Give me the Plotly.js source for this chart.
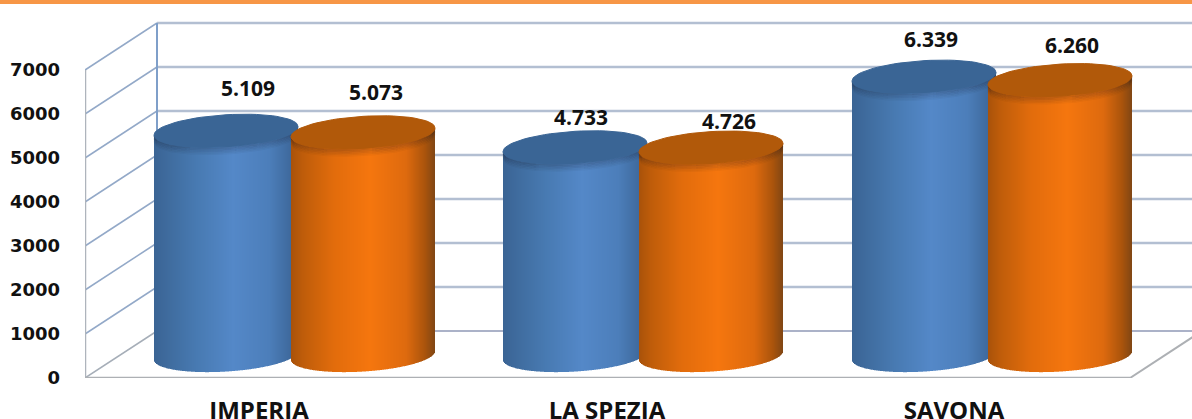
<!DOCTYPE html>
<html>
<head>
<meta charset="utf-8">
<script src="https://cdn.plot.ly/plotly-3.0.1.min.js"></script>
<style>html,body{margin:0;padding:0;background:#fff;overflow:hidden}</style>
</head>
<body>
<div id="chart" style="width:1192px;height:419px"></div>
<script>
// ---- data ----
const categories = ["IMPERIA", "LA SPEZIA", "SAVONA"];
const seriesBlue = [5109, 4733, 6339];
const seriesOrange = [5073, 4726, 6260];
const yTicks = [0, 1000, 2000, 3000, 4000, 5000, 6000, 7000];

// ---- layout geometry (pixel-like x axis units, value y axis) ----
const W = 1192, H = 419, LEFT = 85, BOTTOM = 41;
const PPU = 0.044;                // pixels per value unit on the y axis
const blueCenters = [226, 575, 924];
const orangeCenters = [363, 711, 1060];
const labelCenters = [259, 607, 954];
const blueLabelDx = [22, 6, 7], blueLabelLift = [62, 50, 57];
const orangeLabelDx = [13, 18, 12], orangeLabelLift = [60, 46, 55];
const RX = 72, RY = 16, SHEAR = 0.06;
const FLOOR_LIFT = 510;           // cylinders stand this far "into" the floor
const WALL_DX = 72, WALL_DY = 47 / PPU;
const FLOOR_END = 1130;

const blueStops = [[0,[58,100,148]],[0.08,[62,106,156]],[0.3,[72,122,178]],[0.55,[84,136,200]],[0.8,[76,126,186]],[0.93,[64,108,160]],[1,[56,98,146]]];
const orangeStops = [[0,[168,82,10]],[0.08,[190,92,10]],[0.3,[226,108,12]],[0.55,[245,118,14]],[0.8,[222,106,14]],[0.93,[170,84,12]],[1,[128,70,20]]];

function ramp(stops, t) {
  for (let i = 1; i < stops.length; i++) {
    if (t <= stops[i][0]) {
      const a = stops[i-1], b = stops[i], f = (t - a[0]) / (b[0] - a[0]);
      const c = a[1].map((v, k) => Math.round(v + (b[1][k] - v) * f));
      return `rgb(${c[0]},${c[1]},${c[2]})`;
    }
  }
  return "rgb(0,0,0)";
}
function lowerArc(dx) { return (-SHEAR * dx + RY * Math.sqrt(Math.max(0, 1 - (dx / RX) ** 2))) / PPU; }

function bodyTrace(name, centers, values, stops) {
  const x = [], y = [], base = [], color = [];
  values.forEach((v, i) => {
    for (let dx = -RX; dx < RX; dx++) {
      const m = dx + 0.5;
      const bottom = FLOOR_LIFT - lowerArc(m);
      const top = v + FLOOR_LIFT - (-SHEAR * m) / PPU;
      x.push(centers[i] + m);
      base.push(bottom);
      y.push(top - bottom);
      color.push(ramp(stops, (m + RX) / (2 * RX)));
    }
  });
  return {type: "bar", name, x, y, base, width: 1, opacity: 1, marker: {color, opacity: 1, line: {width: 0}}, hoverinfo: "skip", showlegend: false};
}
function capTrace(center, value, fill) {
  const x = [], y = [];
  for (let d = 0; d <= 72; d++) {
    const a = d / 72 * 2 * Math.PI;
    const dx = RX * Math.cos(a);
    x.push(center + dx);
    y.push(value + FLOOR_LIFT + (SHEAR * dx + RY * Math.sin(a)) / PPU);
  }
  return {type: "scatter", mode: "lines", x, y, fill: "toself", fillcolor: fill, line: {color: fill, width: 1}, hoverinfo: "skip", showlegend: false};
}
// soft shaded band just under the rim of a cap
function rimTrace(center, value, drop, alpha) {
  const x = [], y = [];
  for (let d = 0; d <= 48; d++) {
    const dx = -RX + 2 * RX * d / 48;
    x.push(center + dx);
    y.push(value + FLOOR_LIFT - lowerArc(dx) - drop / PPU);
  }
  return {type: "scatter", mode: "lines", x, y, line: {color: `rgba(20,20,30,${alpha})`, width: 1.6}, hoverinfo: "skip", showlegend: false};
}
const fmt = v => (v / 1000).toFixed(3);

const traces = [
  bodyTrace("Blue", blueCenters, seriesBlue, blueStops),
  bodyTrace("Orange", orangeCenters, seriesOrange, orangeStops)
];
const RIM = [[1, 0.2], [2.5, 0.16], [4, 0.12], [5.5, 0.08], [7, 0.04]];
[[seriesBlue, blueCenters, "#3a6595"], [seriesOrange, orangeCenters, "#b1590a"]].forEach(([vals, centers, fill]) => {
  vals.forEach((v, i) => {
    RIM.forEach(r => traces.push(rimTrace(centers[i], v, r[0], r[1])));
    traces.push(capTrace(centers[i], v, fill));
  });
});
traces.push({
  type: "scatter", mode: "text", hoverinfo: "skip", showlegend: false,
  x: blueCenters.map((c, i) => c + blueLabelDx[i]).concat(orangeCenters.map((c, i) => c + orangeLabelDx[i])),
  y: seriesBlue.map((v, i) => v + blueLabelLift[i] / PPU).concat(seriesOrange.map((v, i) => v + orangeLabelLift[i] / PPU)),
  text: seriesBlue.map(fmt).concat(seriesOrange.map(fmt)),
  textposition: "middle center",
  textfont: {family: "Open Sans", size: 21, color: "#111111", weight: 700},
  cliponaxis: false
});

const shapes = [];
const seg = (x0, y0, x1, y1, color, width) => shapes.push({type: "line", layer: "below", xref: "x", yref: "y", x0, y0, x1, y1, line: {color, width}});
yTicks.forEach(t => {
  seg(LEFT + WALL_DX, t + WALL_DY, W, t + WALL_DY, t === 0 ? "#8f98b6" : "#b3bfd2", t === 0 ? 1.5 : 2.5);
  if (t > 0) seg(LEFT, t, LEFT + WALL_DX, t + WALL_DY, "#93a9c8", 1.5);
});
seg(LEFT, 0, LEFT + WALL_DX, WALL_DY, "#a6aeb8", 1.5);
seg(LEFT + WALL_DX, WALL_DY, LEFT + WALL_DX, yTicks[yTicks.length - 1] + WALL_DY, "#7f9fc9", 2);
seg(LEFT, 0, LEFT, yTicks[yTicks.length - 1], "#aeb4bc", 2.5);
seg(LEFT, 0, FLOOR_END, 0, "#adb0b4", 2.5);
seg(FLOOR_END, 0, W + 2, (W + 2 - FLOOR_END) * 47 / 72 / PPU, "#adb0b4", 2);
// orange strip along the top edge of the slide
shapes.push({type: "rect", layer: "above", xref: "paper", yref: "paper", x0: -LEFT / (W - LEFT), x1: 1, y0: 1 - 4 / (H - BOTTOM), y1: 1, fillcolor: "#F79646", line: {width: 0}});

const layout = {
  width: W, height: H,
  margin: {l: LEFT, r: 0, t: 0, b: BOTTOM, pad: 0, autoexpand: false},
  paper_bgcolor: "#ffffff", plot_bgcolor: "#ffffff",
  barmode: "overlay", showlegend: false,
  xaxis: {
    range: [LEFT, W], showgrid: false, zeroline: false, showline: false, ticks: "",
    tickmode: "array", tickvals: labelCenters, ticktext: categories, ticklabelstandoff: 16,
    tickfont: {family: "Open Sans", size: 24, color: "#111111", weight: 700}
  },
  yaxis: {
    range: [0, (H - BOTTOM) / PPU], showgrid: false, zeroline: false, showline: false, ticks: "",
    tickmode: "array", tickvals: yTicks, ticktext: yTicks.map(String), ticklabelstandoff: 24,
    tickfont: {family: "DejaVu Sans", size: 18, color: "#111111", weight: 700}
  },
  shapes
};
Plotly.newPlot("chart", traces, layout, {displayModeBar: false, staticPlot: true});
</script>
</body>
</html>
